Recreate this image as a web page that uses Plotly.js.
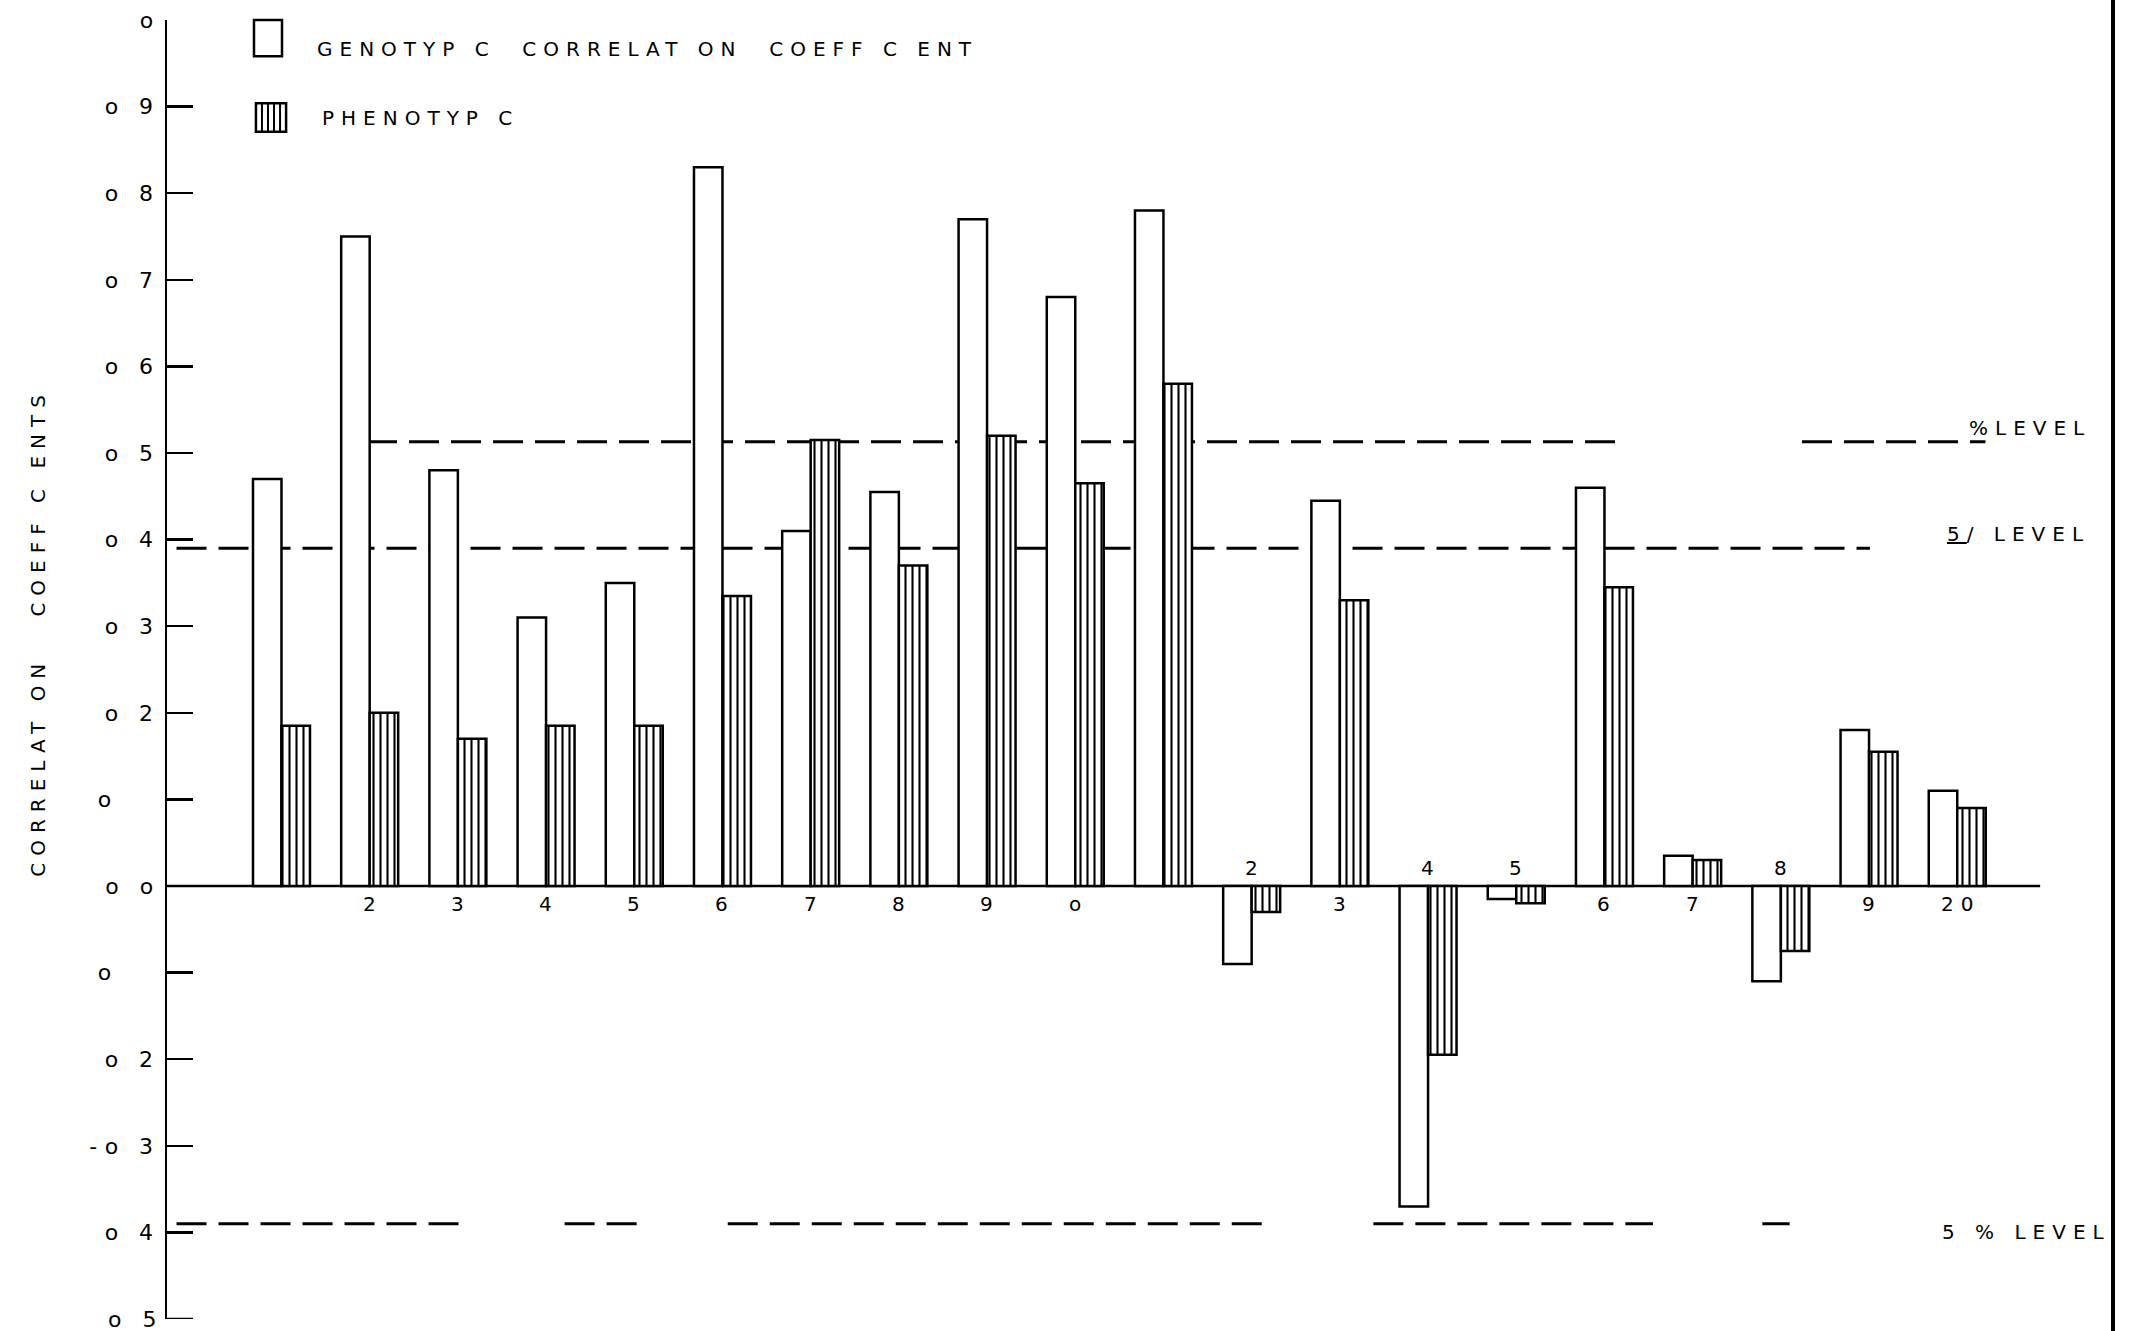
<!DOCTYPE html>
<html>
<head>
<meta charset="utf-8">
<script src="https://cdn.plot.ly/plotly-3.0.1.min.js"></script>
<style>
  html, body { margin: 0; padding: 0; background: #fff; }
  #chart { width: 2132px; height: 1331px; }
  svg text { letter-spacing: 7px; }
</style>
</head>
<body>
<div id="chart"></div>
<script>
// ---- data ----
const categories = [1,2,3,4,5,6,7,8,9,10,11,12,13,14,15,16,17,18,19,20];
const categoryLabels = ["","2","3","4","5","6","7","8","9","o","","2","3","4","5","6","7","8","9","20"];
const genotypic  = [0.47,0.75,0.48,0.31,0.35,0.83,0.41,0.455,0.77,0.68,0.78,-0.09,0.445,-0.37,-0.015,0.46,0.035,-0.11,0.18,0.11];
const phenotypic = [0.185,0.20,0.17,0.185,0.185,0.335,0.515,0.37,0.52,0.465,0.58,-0.03,0.33,-0.195,-0.02,0.345,0.03,-0.075,0.155,0.09];
const yTickVals  = [1.0,0.9,0.8,0.7,0.6,0.5,0.4,0.3,0.2,0.1,0,-0.1,-0.2,-0.3,-0.4,-0.5];
const yTickText  = ["o","o 9","o 8","o 7","o 6","o 5","o 4","o 3","o 2","o&nbsp;&nbsp;&nbsp;","o o","o&nbsp;&nbsp;&nbsp;","o 2","-o 3","o 4","o 5"];
const level1pct = 0.513;
const level5pct = 0.39;
const level5pctNeg = -0.39;
// dashed significance-line spans, in category units
const span1pct = [[1.97,16.24],[18.24,20.32]];
const span5pct = [[-0.19,19.01]];
const span5pctNeg = [[-0.19,3.05],[4.21,5.06],[6.06,12.15],[13.38,16.55],[17.79,18.10]];

const FONT = "DejaVu Sans, Liberation Sans, sans-serif";

const traces = [
  {
    type: "bar", name: "GENOTYP C CORRELAT ON COEFF C ENT",
    x: categories, y: genotypic,
    marker: { color: "#ffffff", line: { color: "#000", width: 2.5 } },
    showlegend: false, hoverinfo: "x+y"
  },
  {
    type: "bar", name: "PHENOTYP C",
    x: categories, y: phenotypic,
    marker: {
      color: "#ffffff",
      line: { color: "#000", width: 2.5 },
      pattern: { shape: "|", fgcolor: "#000", bgcolor: "#ffffff", size: 7, solidity: 0.3 }
    },
    showlegend: false, hoverinfo: "x+y"
  }
];

const shapes = [];
const dash = "30px,12px";
function addSpans(spans, yv) {
  spans.forEach(s => shapes.push({
    type: "line", xref: "x", yref: "y", x0: s[0], x1: s[1], y0: yv, y1: yv,
    line: { color: "#000", width: 3, dash: dash }, layer: "below"
  }));
}
addSpans(span1pct, level1pct);
addSpans(span5pct, level5pct);
addSpans(span5pctNeg, level5pctNeg);

// zero (baseline) line
shapes.push({ type: "line", xref: "x", yref: "y", x0: -0.298, x1: 20.94, y0: 0, y1: 0,
  line: { color: "#000", width: 2.5 }, layer: "below" });
// right page border
shapes.push({ type: "line", xref: "paper", yref: "paper", x0: 1, x1: 1, y0: -0.02, y1: 1.02,
  line: { color: "#000", width: 4 } });
// bottom tick at -0.5
shapes.push({ type: "line", xref: "paper", yref: "y", x0: 0, x1: 0.0134, y0: -0.5, y1: -0.5,
  line: { color: "#000", width: 2.5 } });

// legend icons
shapes.push({ type: "rect", xref: "paper", yref: "paper", x0: 0.0447, x1: 0.0591, y0: 0.972, y1: 1.0,
  line: { color: "#000", width: 2.5 }, fillcolor: "#fff" });
shapes.push({ type: "rect", xref: "paper", yref: "paper", x0: 0.0457, x1: 0.0612, y0: 0.914, y1: 0.936,
  line: { color: "#000", width: 2.5 }, fillcolor: "#fff" });
[0.0488, 0.0519, 0.0550, 0.0581].forEach(xx => shapes.push({
  type: "line", xref: "paper", yref: "paper", x0: xx, x1: xx, y0: 0.914, y1: 0.936,
  line: { color: "#000", width: 2 } }));

const annotations = [];
categories.forEach((c, i) => {
  if (!categoryLabels[i]) return;
  const neg = genotypic[i] < 0;
  annotations.push({
    x: c, y: 0, xref: "x", yref: "y", text: categoryLabels[i], showarrow: false,
    yanchor: neg ? "bottom" : "top", yshift: neg ? 4 : -4, xshift: 3,
    font: { family: FONT, size: 20, color: "#000" }
  });
});
const txtFont = { family: FONT, size: 20, color: "#000" };
annotations.push({ xref: "paper", yref: "paper", x: 0.076, y: 0.9777, xanchor: "left", yanchor: "middle",
  text: "GENOTYP C&nbsp;&nbsp;CORRELAT ON&nbsp;&nbsp;COEFF C ENT", showarrow: false, font: txtFont });
annotations.push({ xref: "paper", yref: "paper", x: 0.0786, y: 0.9246, xanchor: "left", yanchor: "middle",
  text: "PHENOTYP C", showarrow: false, font: txtFont });
annotations.push({ xref: "paper", yref: "paper", x: -0.0663, y: 0.529, xanchor: "center", yanchor: "middle",
  textangle: -90, text: "CORRELAT ON&nbsp;&nbsp;&nbsp;COEFF C ENTS", showarrow: false, font: txtFont });
annotations.push({ xref: "paper", yref: "y", x: 0.925, y: level1pct, xanchor: "left", yanchor: "bottom",
  text: "%LEVEL", showarrow: false, font: txtFont });
annotations.push({ xref: "paper", yref: "y", x: 0.9137, y: level5pct, xanchor: "left", yanchor: "bottom",
  text: "<u>5</u>/ LEVEL", showarrow: false, font: txtFont });
annotations.push({ xref: "paper", yref: "y", x: 0.911, y: -0.40, xanchor: "left", yanchor: "middle",
  text: "5 % LEVEL", showarrow: false, font: txtFont });
// bottom tick label (kept visible even at the edge)
annotations.push({ xref: "paper", yref: "y", x: 0, y: -0.5, xanchor: "right", yanchor: "middle",
  xshift: -2, text: "o 5", showarrow: false, font: { family: FONT, size: 22, color: "#000" } });

const layout = {
  width: 2132, height: 1331,
  margin: { l: 167, r: 19, t: 20, b: 12, pad: 0 },
  paper_bgcolor: "#fff", plot_bgcolor: "#fff",
  barmode: "group", bargap: 0.354, bargroupgap: 0,
  showlegend: false,
  xaxis: { range: [-0.298, 21.766], visible: false, fixedrange: true },
  yaxis: {
    range: [-0.5, 1.0], tickvals: yTickVals.slice(0, -1), ticktext: yTickText.slice(0, -1),
    ticks: "inside", ticklen: 26, tickwidth: 2.5, tickcolor: "#000",
    showline: true, linecolor: "#000", linewidth: 2.5,
    showgrid: false, zeroline: false, ticklabelstandoff: 0, ticklabeloverflow: "allow",
    tickfont: { family: FONT, size: 22, color: "#000" }
  },
  shapes: shapes,
  annotations: annotations
};

Plotly.newPlot("chart", traces, layout, { displayModeBar: false, staticPlot: true });
</script>
</body>
</html>
